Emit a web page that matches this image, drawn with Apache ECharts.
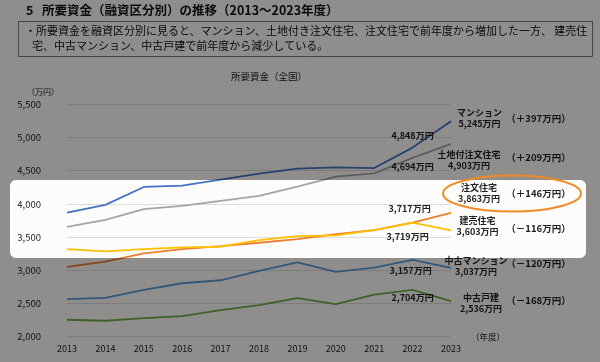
<!DOCTYPE html>
<html>
<head>
<meta charset="utf-8">
<script src="https://cdn.jsdelivr.net/npm/echarts@6/dist/echarts.min.js"></script>
<style>
html,body{margin:0;padding:0;background:#fff;}
#c{width:600px;height:362px;}
</style>
</head>
<body>
<div id="c"></div>
<script>
// ---- data ----
const years = ['2013','2014','2015','2016','2017','2018','2019','2020','2021','2022','2023'];
const mansion   = [3870, 3985, 4255, 4275, 4365, 4455, 4530, 4550, 4540, 4848, 5245];
const tochiChumon = [3655, 3760, 3920, 3970, 4045, 4120, 4260, 4410, 4460, 4694, 4903];
const chumon    = [3050, 3130, 3255, 3320, 3365, 3415, 3470, 3545, 3605, 3717, 3863];
const tateuri   = [3320, 3285, 3320, 3345, 3355, 3455, 3515, 3525, 3605, 3719, 3603];
const chukoMansion = [2565, 2585, 2705, 2805, 2850, 2990, 3120, 2975, 3040, 3157, 3037];
const chukoKodate  = [2255, 2240, 2280, 2310, 2400, 2475, 2580, 2490, 2635, 2704, 2536];
const seriesNames = ['マンション','土地付注文住宅','注文住宅','建売住宅','中古マンション','中古戸建'];
const yTicks = [2000, 2500, 3000, 3500, 4000, 4500, 5000, 5500];

// ---- styling / layout (not data) ----
const FONT = '"Noto Sans CJK JP", "Noto Sans", sans-serif';
const styles = [
  {color:'#4472c4', end:[28.5,-3],  prev:[0,-12], dDy:-3},
  {color:'#a5a5a5', end:[18,16.5],  prev:[0,9],   dDy:13},
  {color:'#ed7d31', end:[28,-19.5], prev:[-3,-14],dDy:-20},
  {color:'#ffc000', end:[26.5,-4],  prev:[-5,14], dDy:-2},
  {color:'#5b9bd5', end:[25,-2],    prev:[-2,11], dDy:-4},
  {color:'#70ad47', end:[30,1.5],   prev:[0,8],   dDy:-1}
];
const allValues = [mansion, tochiChumon, chumon, tateuri, chukoMansion, chukoKodate];

const fmt = v => v.toLocaleString('en-US') + '万円';
const labTxt = {fontFamily: FONT, fontSize: 9, fontWeight: 'bold', color: '#222'};
const CLEAR = 'rgba(0,0,0,0)';

const series = allValues.map((vals, si) => {
  const st = styles[si];
  const n = vals.length;
  const data = vals.map((v, i) => {
    if (i === n - 1) {
      return {value: v, label: {show: true, position: 'inside', offset: st.end,
        formatter: seriesNames[si] + '\n' + fmt(v), align: 'center', verticalAlign: 'middle',
        lineHeight: 11, ...labTxt}};
    }
    if (i === n - 2) {
      return {value: v, label: {show: true, position: 'inside', offset: st.prev,
        formatter: fmt(v), align: 'center', verticalAlign: 'middle', ...labTxt}};
    }
    return v;
  });
  const d = vals[n-1] - vals[n-2];
  const dTxt = '（' + (d >= 0 ? '＋' : '－') + Math.abs(d) + '万円）';
  return {
    name: seriesNames[si],
    type: 'line',
    data: data,
    symbol: 'circle',
    symbolSize: 1,
    showSymbol: true,
    itemStyle: {color: CLEAR, borderWidth: 0},
    lineStyle: {color: st.color, width: 1.8},
    label: {show: false},
    emphasis: {disabled: true},
    animation: false,
    silent: true,
    markPoint: {
      symbol: 'circle', symbolSize: 1, silent: true, animation: false,
      itemStyle: {color: CLEAR},
      data: [{coord: [years[n-1], vals[n-1]],
        label: {show: true, position: 'inside', offset: [87.5, st.dDy], formatter: dTxt,
          fontFamily: FONT, fontSize: 9.5, fontWeight: 'bold', color: '#222'}}]
    }
  };
});

// dim overlay around a rounded highlight band
const SHADE = 'rgba(0,0,0,0.435)';
const band = {x0: 10, y0: 180, x1: 586, y1: 258, r: 6};
function cornerPoly(cx, cy, px, py, a0, a1) {
  const pts = [[px, py]];
  for (let k = 0; k <= 8; k++) {
    const a = a0 + (a1 - a0) * k / 8;
    pts.push([cx + band.r * Math.cos(a), cy + band.r * Math.sin(a)]);
  }
  return pts;
}
const r = band.r;
const overlay = [
  {type: 'rect', shape: {x: 0, y: 0, width: 600, height: band.y0}},
  {type: 'rect', shape: {x: 0, y: band.y1, width: 600, height: 362 - band.y1}},
  {type: 'rect', shape: {x: 0, y: band.y0, width: band.x0, height: band.y1 - band.y0}},
  {type: 'rect', shape: {x: band.x1, y: band.y0, width: 600 - band.x1, height: band.y1 - band.y0}},
  {type: 'polygon', shape: {points: cornerPoly(band.x0 + r, band.y0 + r, band.x0, band.y0, Math.PI, 1.5 * Math.PI)}},
  {type: 'polygon', shape: {points: cornerPoly(band.x1 - r, band.y0 + r, band.x1, band.y0, 1.5 * Math.PI, 2 * Math.PI)}},
  {type: 'polygon', shape: {points: cornerPoly(band.x1 - r, band.y1 - r, band.x1, band.y1, 0, 0.5 * Math.PI)}},
  {type: 'polygon', shape: {points: cornerPoly(band.x0 + r, band.y1 - r, band.x0, band.y1, 0.5 * Math.PI, Math.PI)}}
].map(e => Object.assign(e, {z: 100, silent: true, style: {fill: SHADE}}));

const chart = echarts.init(document.getElementById('c'), null, {renderer: 'canvas'});

chart.setOption({
  backgroundColor: '#fdfcfa',
  animation: false,
  grid: {left: 67, right: 149, top: 104.3, bottom: 25.3, containLabel: false},
  xAxis: {
    type: 'category', data: years, boundaryGap: false,
    axisLine: {show: false}, axisTick: {show: false},
    axisLabel: {fontFamily: FONT, fontSize: 9, color: '#222', margin: 7},
    name: '（年度）', nameLocation: 'end', nameGap: 20,
    nameTextStyle: {fontFamily: FONT, fontSize: 8.5, color: '#222', padding: [22,0,0,0]}
  },
  yAxis: {
    type: 'value', min: 2000, max: 5500, interval: 500,
    axisLine: {show: false}, axisTick: {show: false},
    splitLine: {show: true, lineStyle: {color: '#dcdcdc', width: 1}},
    axisLabel: {fontFamily: FONT, fontSize: 9.5, color: '#222', margin: 26,
      formatter: v => yTicks.includes(v) ? v.toLocaleString('en-US') : ''},
    name: '（万円）', nameLocation: 'end', nameGap: 8,
    nameTextStyle: {fontFamily: FONT, fontSize: 8, color: '#222', align: 'right', padding: [0, 8, 0, 0]}
  },
  series: series,
  graphic: [
    {type: 'text', z: 50, left: 26, top: 4,
      style: {text: '5', fontFamily: FONT, fontSize: 12.5, fontWeight: 'bold', fill: '#111'}},
    {type: 'text', z: 50, left: 42, top: 4,
      style: {text: '所要資金（融資区分別）の推移（2013〜2023年度）', fontFamily: FONT, fontSize: 12.5, fontWeight: 'bold', fill: '#111'}},
    {type: 'rect', z: 50, shape: {x: 18.5, y: 21.5, width: 574, height: 35},
      style: {fill: 'rgba(255,255,255,0.06)', stroke: '#7a7a7a', lineWidth: 1}},
    {type: 'text', z: 51, left: 25, top: 25,
      style: {text: '・所要資金を融資区分別に見ると、マンション、土地付き注文住宅、注文住宅で前年度から増加した一方、 建売住', fontFamily: FONT, fontSize: 11, fill: '#111'}},
    {type: 'text', z: 51, left: 32, top: 40,
      style: {text: '宅、中古マンション、中古戸建で前年度から減少している。', fontFamily: FONT, fontSize: 11, fill: '#111'}},
    {type: 'text', z: 50, left: 231, top: 72,
      style: {text: '所要資金（全国）', fontFamily: FONT, fontSize: 9.5, fill: '#222'}},
    ...overlay,
    {type: 'ellipse', z: 110, silent: true, shape: {cx: 512, cy: 193.5, rx: 69, ry: 18},
      style: {fill: 'none', stroke: '#f08a24', lineWidth: 2}}
  ]
});
</script>
</body>
</html>
